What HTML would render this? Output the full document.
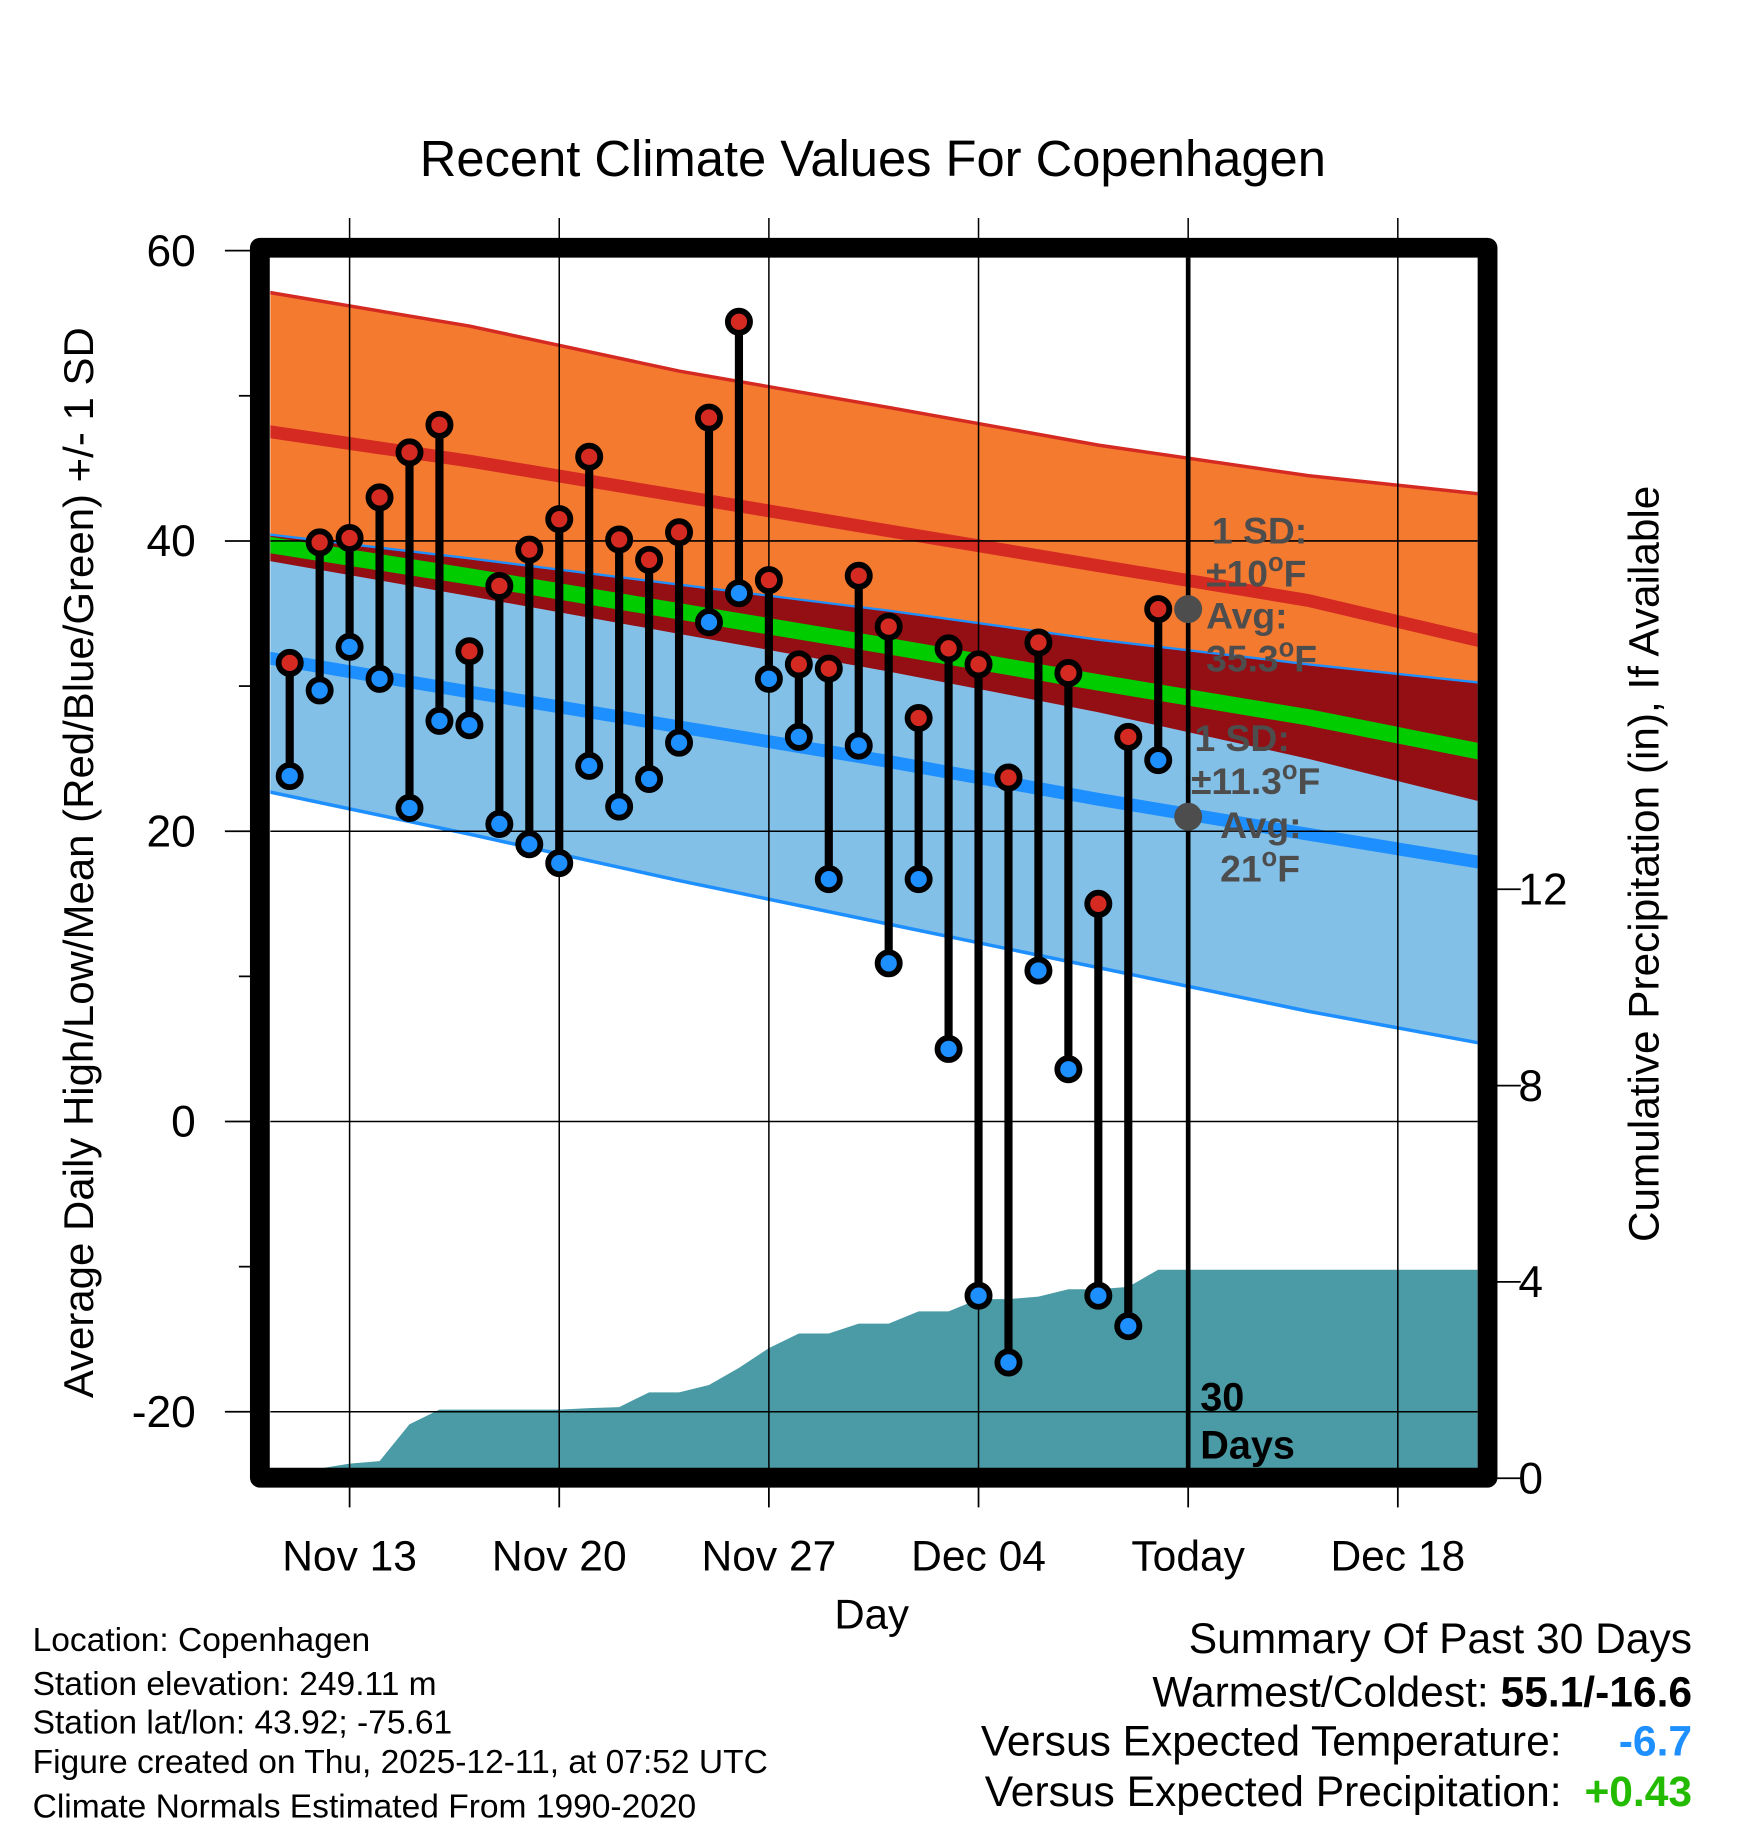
<!DOCTYPE html>
<html><head><meta charset="utf-8">
<style>
html,body{margin:0;padding:0;background:#fff;}
svg{display:block;font-family:"Liberation Sans",Arial,sans-serif;}
</style></head>
<body>
<svg id="chart" width="1748" height="1828" viewBox="0 0 1500 1568" preserveAspectRatio="none" xmlns="http://www.w3.org/2000/svg">
<rect width="1500" height="1568" fill="#fff"/>
<text x="749" y="151" font-size="43.5" text-anchor="middle">Recent Climate Values For Copenhagen</text>
<g id="plot"></g>
<text transform="translate(80,740) rotate(-90)" font-size="36" text-anchor="middle">Average Daily High/Low/Mean (Red/Blue/Green) +/- 1 SD</text>
<text transform="translate(1423,741) rotate(-90)" font-size="36.3" text-anchor="middle">Cumulative Precipitation (in), If Available</text>
<text x="748" y="1397" font-size="36" text-anchor="middle">Day</text>
<g font-size="28.8">
<text x="28" y="1416">Location: Copenhagen</text>
<text x="28" y="1454">Station elevation: 249.11 m</text>
<text x="28" y="1487">Station lat/lon: 43.92; -75.61</text>
<text x="28" y="1521">Figure created on Thu, 2025-12-11, at 07:52 UTC</text>
<text x="28" y="1559">Climate Normals Estimated From 1990-2020</text>
</g>
<g font-size="36.5" text-anchor="end">
<text x="1452" y="1418">Summary Of Past 30 Days</text>
<text x="1452" y="1464">Warmest/Coldest: <tspan font-weight="bold">55.1/-16.6</tspan></text>
<text x="1340" y="1506">Versus Expected Temperature:</text>
<text x="1452" y="1506" fill="#1e8fff" font-weight="bold">-6.7</text>
<text x="1340" y="1549">Versus Expected Precipitation:</text>
<text x="1452" y="1549" fill="#22bb00" font-weight="bold">+0.43</text>
</g>
</svg>
<script>
// Daily observations Nov 11 .. Dec 10
const highs = [31.6,39.9,40.2,43.0,46.1,48.0,32.4,36.9,39.4,41.5,45.8,40.1,38.7,40.6,48.5,55.1,37.3,31.5,31.2,37.6,34.1,27.8,32.6,31.5,23.7,33.0,30.9,15.0,26.5,35.3];
const lows  = [23.8,29.7,32.7,30.5,21.6,27.6,27.3,20.5,19.1,17.8,24.5,21.7,23.6,26.1,34.4,36.4,30.5,26.5,16.7,25.9,10.9,16.7,5.0,-12.0,-16.6,10.4,3.6,-12.0,-14.1,24.9];
const precip = [0.0,0.2,0.3,0.35,1.1,1.4,1.4,1.4,1.4,1.4,1.43,1.45,1.75,1.75,1.9,2.25,2.65,2.95,2.95,3.15,3.15,3.4,3.4,3.65,3.65,3.7,3.85,3.85,3.9,4.25];
// Normals sampled at day offsets (days from Nov 11)
const normDays = [-0.9,6,13,20,27,34,40.8];
const normHighUp = [57.2,54.8,51.7,49.2,46.6,44.5,43.0];
const normHigh   = [47.6,45.5,43.1,40.7,38.3,35.9,32.6];
const normHighLo = [38.7,36.2,33.6,31.0,28.2,25.0,21.5];
const normLowUp  = [40.5,38.8,37.0,35.2,33.2,31.5,30.0];
const normLow    = [32.0,29.6,27.2,24.8,22.2,19.8,17.5];
const normLowLo  = [22.8,19.8,16.6,13.6,10.6,7.6,5.0];
const xTickDays = [2,9,16,23,30,37];
const xTickLabels = ["Nov 13","Nov 20","Nov 27","Dec 04","Today","Dec 18"];
const yTicks = [60,40,20,0,-20];
const y2Ticks = [0,4,8,12];

const X = d => 248.6 + d*25.7;
const Y = t => 962 - t*12.45;
const Y2 = p => 1268 - p*42.1;
const L=232,R=1268,T=221,B=1260;
const NS="http://www.w3.org/2000/svg";
const plot=document.getElementById('plot');
function mk(tag,attrs,parent){const e=document.createElementNS(NS,tag);for(const k in attrs)e.setAttribute(k,attrs[k]);(parent||plot).appendChild(e);return e;}
function pts(days,vals,f){return days.map((d,i)=>X(d).toFixed(1)+','+f(vals[i]).toFixed(1));}
const clip=mk('clipPath',{id:'pc'});mk('rect',{x:L,y:T,width:R-L,height:B-T},clip);
const g=mk('g',{'clip-path':'url(#pc)'});
function gmk(tag,attrs){return mk(tag,attrs,g);}
(function(){
 const p=(a,b)=>pts(normDays,a,Y).concat(pts(normDays,b,Y).reverse()).join(' ');
 let e=gmk('polygon',{points:p(normHighUp,normHighLo),fill:'#f47a30'});
 
 
 e=gmk('polygon',{points:p(normLowUp,normLowLo),fill:'#82c0e8'});
 
 
 e=gmk('polygon',{points:p(normLowUp,normHighLo),fill:'#930f14'});
 
 
 const mean=normHigh.map((h,i)=>(h+normLow[i])/2);
 const lines=[[normHighUp,'#d42a22',3,'high-plus-sd-line'],[normHigh,'#d42a22',11,'normal-high-line'],[normLowUp,'#1e8fff',2,'low-plus-sd-line'],[mean,'#00cc00',14,'normal-mean-line'],[normLow,'#1e8fff',11,'normal-low-line'],[normLowLo,'#1e8fff',3,'low-minus-sd-line']];
 lines.forEach(l=>{const el=gmk('polyline',{points:pts(normDays,l[0],Y).join(' '),fill:'none',stroke:l[1],'stroke-width':l[2]});
 
 });
 const pp=[];precip.forEach((v,i)=>pp.push(X(i).toFixed(1)+','+Y2(v).toFixed(1)));
 pp.push(R+','+Y2(precip[precip.length-1]).toFixed(1));pp.push(R+','+(B+5));pp.push(L+','+(B+5));
 pp.unshift(L+','+Y2(0));
 e=gmk('polygon',{points:pp.join(' '),fill:'#4a9ba5'});
 
 
})();
xTickDays.forEach(d=>{mk('line',{x1:X(d),x2:X(d),y1:187,y2:B,stroke:'#000','stroke-width':1.3});});
yTicks.forEach(t=>{mk('line',{x1:L,x2:R,y1:Y(t),y2:Y(t),stroke:'#000','stroke-width':1.3});});
mk('line',{x1:X(30),x2:X(30),y1:T,y2:B,stroke:'#000','stroke-width':4});
const ann=mk('g',{fill:'#4d4d4d','font-weight':'bold','font-size':32});


mk('circle',{cx:X(30),cy:Y(35.3),r:12,fill:'#4d4d4d'},ann);
mk('circle',{cx:X(30),cy:Y(21),r:12,fill:'#4d4d4d'},ann);
ann.insertAdjacentHTML('beforeend','<text x="1040" y="466">1 SD:</text><text x="1035" y="503">±10<tspan dy="-13" font-size="22">o</tspan><tspan dy="13">F</tspan></text><text x="1035" y="539">Avg:</text><text x="1035" y="576">35.3<tspan dy="-13" font-size="22">o</tspan><tspan dy="13">F</tspan></text><text x="1025" y="644">1 SD:</text><text x="1022" y="681">±11.3<tspan dy="-13" font-size="22">o</tspan><tspan dy="13">F</tspan></text><text x="1047" y="719">Avg:</text><text x="1047" y="756">21<tspan dy="-13" font-size="22">o</tspan><tspan dy="13">F</tspan></text>');
const dt=mk('g',{'font-weight':'bold','font-size':34});


dt.insertAdjacentHTML('beforeend','<text x="1030" y="1210">30</text><text x="1030" y="1251">Days</text>');
highs.forEach((h,i)=>{
 const s=mk('line',{x1:X(i),x2:X(i),y1:Y(h),y2:Y(lows[i]),stroke:'#000','stroke-width':7});
 
 
});
highs.forEach((h,i)=>{
 const c=mk('circle',{cx:X(i),cy:Y(h),r:9.5,fill:'#d42a22',stroke:'#000','stroke-width':5});
 
 
 const c2=mk('circle',{cx:X(i),cy:Y(lows[i]),r:9.5,fill:'#1e8fff',stroke:'#000','stroke-width':5});
 
 
});
const fr=mk('rect',{x:223,y:212.5,width:1053.5,height:1055,fill:'none',stroke:'#000','stroke-width':17,'stroke-linejoin':'round'});


for(let t=-20;t<=60;t+=10){mk('line',{x1:t%20===0?193:205,x2:215,y1:Y(t),y2:Y(t),stroke:'#000','stroke-width':1.5});}
yTicks.forEach(t=>{const e=mk('text',{x:168,y:Y(t)+13,'font-size':38,'text-anchor':'end'});e.textContent=t;

});
y2Ticks.forEach(p=>{mk('line',{x1:1284,x2:1305,y1:Y2(p),y2:Y2(p),stroke:'#000','stroke-width':1.5});
const e=mk('text',{x:1303,y:Y2(p)+13,'font-size':38});e.textContent=p;

});
xTickDays.forEach((d,i)=>{mk('line',{x1:X(d),x2:X(d),y1:1276,y2:1293,stroke:'#000','stroke-width':1.5});
const e=mk('text',{x:X(d),y:1347,'font-size':36.5,'text-anchor':'middle'});e.textContent=xTickLabels[i];

});
</script>
</body></html>
